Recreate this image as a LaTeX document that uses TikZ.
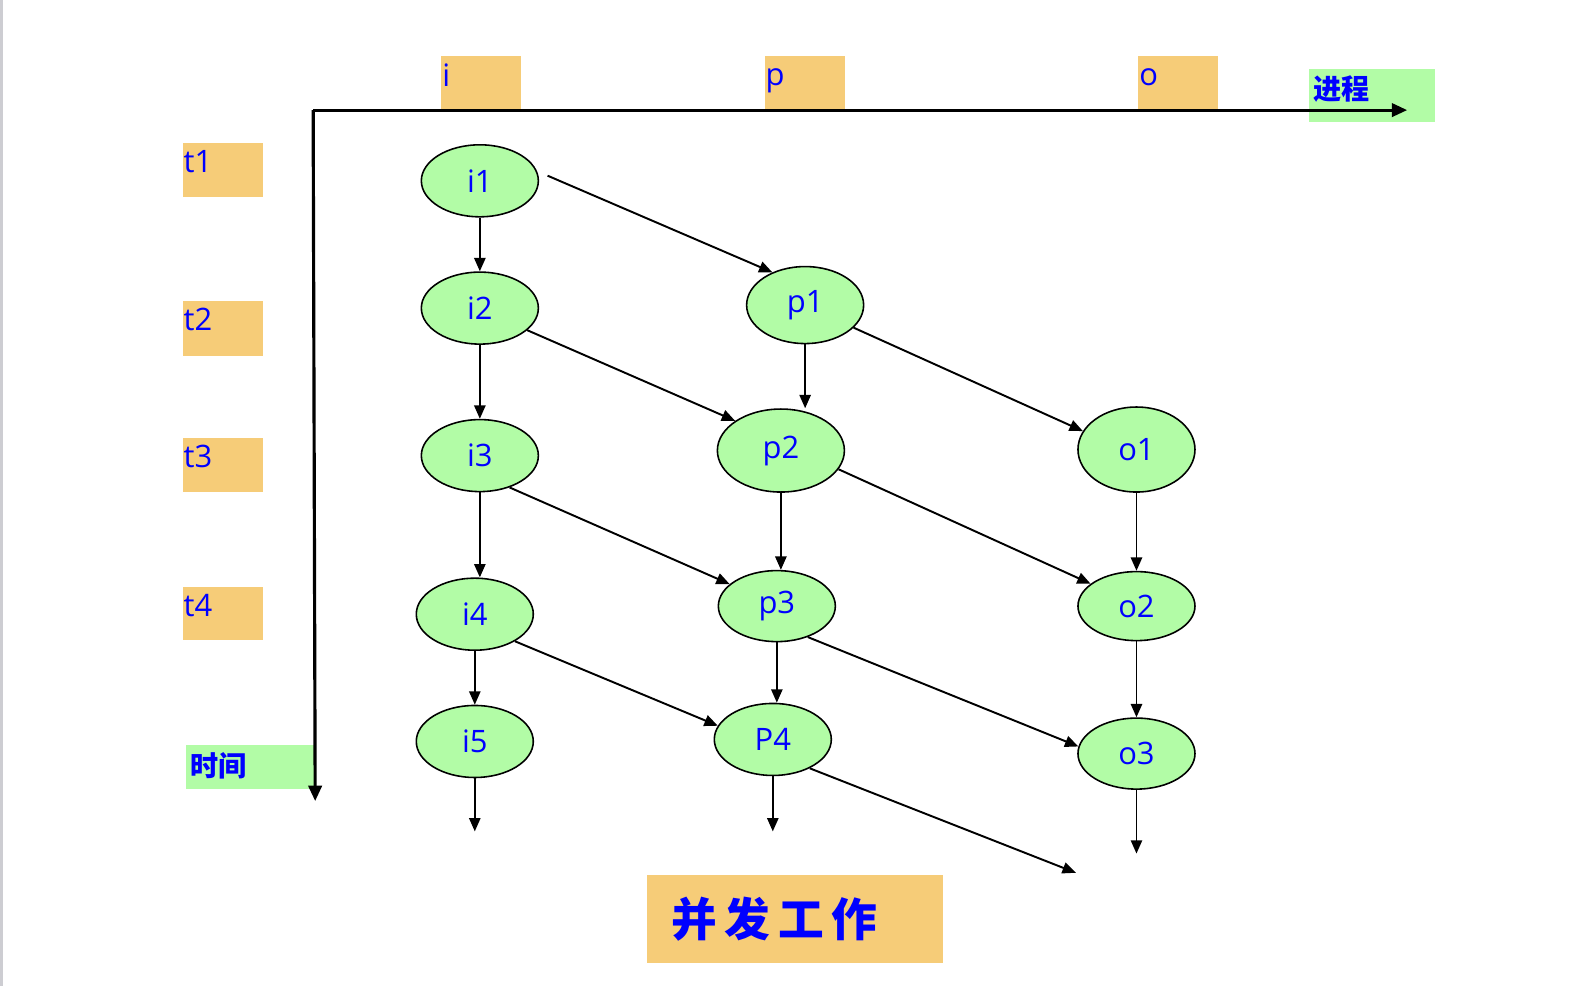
\documentclass[tikz,border=0pt]{standalone}
\usepackage{fontspec}
\setmainfont{Open Sans}
\newfontfamily\cjk{Noto Sans CJK SC}
\usetikzlibrary{arrows.meta, shapes.geometric, positioning, calc}
\definecolor{boxorange}{RGB}{246,204,120}
\definecolor{boxgreen}{RGB}{178,252,166}
\definecolor{txtblue}{RGB}{0,0,255}
\definecolor{edgegray}{RGB}{205,205,210}

\begin{document}
\begin{tikzpicture}[x=0.0101cm, y=-0.0101cm,
  every node/.style={font=\fontsize{8.8}{10}\selectfont, text=txtblue},
  ell/.style={ellipse, draw=black, line width=0.45pt, fill=boxgreen,
    minimum width=1.17cm, minimum height=0.72cm, inner sep=0pt},
  obox/.style={rectangle, fill=boxorange, inner sep=0pt},
  gbox/.style={rectangle, fill=boxgreen, inner sep=0pt},
  lbl/.style={anchor=north west, inner sep=0pt},
  arr/.style={-{Triangle[length=3.8pt, width=3.2pt]}, line width=0.55pt},
  axis/.style={-{Triangle[length=4.4pt, width=3.8pt]}, line width=0.9pt}]

\useasboundingbox (0,0) rectangle (1568,976);
\fill[edgegray] (0,0) rectangle (3,976);

% Axes
\coordinate (origin) at (310,109);
\coordinate (xend) at (1393,109);
\coordinate (yend) at (312,793);

% Process labels
\node[obox, minimum width=0.8cm, minimum height=0.535cm] (ibox) at (476.5,81.5) {};
\node[lbl] at ([xshift=0.01cm, yshift=-0.08cm]ibox.north west) {i};
\node[obox, minimum width=0.8cm, minimum height=0.535cm] (pbox) at (796.5,81.5) {};
\node[lbl] at ([xshift=0.01cm, yshift=-0.13cm]pbox.north west) {p};
\node[obox, minimum width=0.8cm, minimum height=0.535cm] (obox1) at (1166.5,81.5) {};
\node[lbl] at ([xshift=0.01cm, yshift=-0.13cm]obox1.north west) {o};
\node[gbox, minimum width=1.26cm, minimum height=0.535cm] (jcbox) at (1358.5,94.5) {};
\node[lbl, font=\cjk\bfseries\fontsize{8}{9}\selectfont] at ([xshift=0.04cm, yshift=-0.07cm]jcbox.north west) {进程};

% Time labels
\node[obox, minimum width=0.8cm, minimum height=0.535cm] (t1box) at (220.5,168.5) {};
\node[lbl] at ([xshift=0.01cm, yshift=-0.07cm]t1box.north west) {t1};
\node[obox, minimum width=0.8cm, minimum height=0.545cm] (t2box) at (220.5,325) {};
\node[lbl] at ([xshift=0.01cm, yshift=-0.07cm]t2box.north west) {t2};
\node[obox, minimum width=0.8cm, minimum height=0.535cm] (t3box) at (220.5,460.5) {};
\node[lbl] at ([xshift=0.01cm, yshift=-0.07cm]t3box.north west) {t3};
\node[obox, minimum width=0.8cm, minimum height=0.535cm] (t4box) at (220.5,607.5) {};
\node[lbl] at ([xshift=0.01cm, yshift=-0.07cm]t4box.north west) {t4};
\node[gbox, minimum width=1.29cm, minimum height=0.435cm] (sjbox) at (248,759.5) {};
\node[lbl, font=\cjk\bfseries\fontsize{8}{9}\selectfont] at ([xshift=0.04cm, yshift=-0.07cm]sjbox.north west) {时间};

\draw[axis] (origin) -- (xend);
\draw[axis] (origin) -- (yend);

% Work items
\node[ell] (i1) at (475,179) {i1};
\node[ell] (i2) at (475,305) {i2};
\node[ell] (i3) at (475,451) {i3};
\node[ell] (i4) at (470,608) {i4};
\node[ell] (i5) at (470,734) {i5};
\node[ell, minimum height=0.77cm] (p1) at (797,302) {p1};
\node[ell, minimum width=1.27cm, minimum height=0.83cm] (p2) at (773,446) {p2};
\node[ell, minimum height=0.71cm] (p3) at (769,600) {p3};
\node[ell] (P4) at (765,732) {P4};
\node[ell, minimum height=0.85cm] (o1) at (1125,445) {o1};
\node[ell, minimum height=0.69cm] (o2) at (1125,600) {o2};
\node[ell, minimum height=0.71cm] (o3) at (1125,746) {o3};

% Loose ends
\coordinate (iend) at (476,823);
\coordinate (pend) at (771,823);
\coordinate (oend) at (1131,845);
\coordinate (dend) at (1065,864);

% Down the columns
\foreach \a/\b in {i1/i2, i2/i3, i3/i4, i4/i5, p1/p2, p2/p3, p3/P4, o1/o2, o2/o3}
  \draw[arr] (\a.south) -- (\a.south |- \b.north);
\draw[arr] (i5.south) -- (i5.south |- iend);
\draw[arr] (P4.south) -- (P4.south |- pend);
\draw[arr] (o3.south) -- (o3.south |- oend);

% Across the columns
\draw[arr] ([xshift=0.09cm]i1.5) -- (p1.135);
\draw[arr] (i2.-25) -- (p2.147);
\draw[arr] (p1.-25) -- (o1.161);
\draw[arr] (i3.-47) -- (p3.155);
\draw[arr] (p2.-18) -- (o2.154);
\draw[arr] (i4.-34) -- (P4.166);
\draw[arr] (p3.-45) -- (o3.173);
\draw[arr] (P4.-38) -- (dend);

% Title
\node[obox, minimum width=2.96cm, minimum height=0.88cm] (title) at (786.5,909.5) {};
\node[font=\cjk\bfseries\fontsize{13}{15}\selectfont, anchor=west, inner sep=0pt] at ([xshift=0.25cm]title.west) {并\,发\,工\,作};

\end{tikzpicture}
\end{document}
